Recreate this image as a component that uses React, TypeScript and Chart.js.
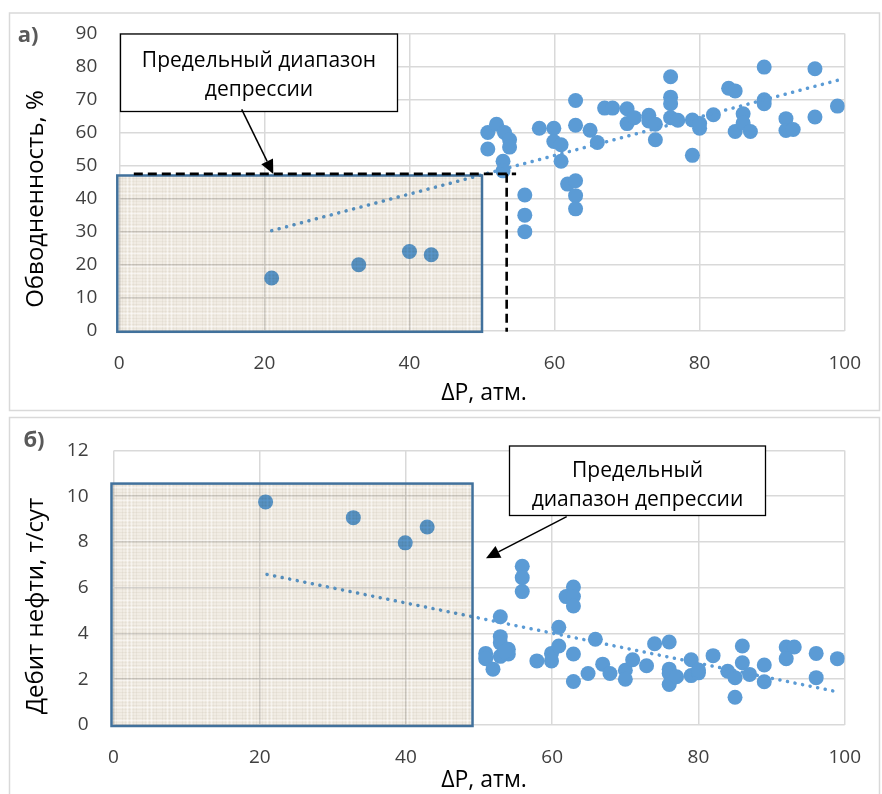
import React, { useEffect, useRef } from 'react';
import { Chart, registerables } from 'chart.js';

Chart.register(...registerables);

const FONT = '"Open Sans", "Noto Sans", sans-serif';

// ---- Chart a) : water cut vs depression ----
const waterDp = [
  21, 33, 40, 43,
  50.8, 50.8, 52, 53.1, 53.8, 53.8, 52.9, 52.9,
  57.9, 59.9, 59.9, 60.9, 60.9, 62.9, 62.9, 64.9, 65.9,
  61.8, 62.9, 62.9, 62.9, 55.9, 55.9, 55.9,
  66.9, 68, 70, 70, 71, 73, 73, 73.9, 73.9,
  76, 76, 76, 76, 77, 79, 80, 80, 79,
  81.9, 84, 84.9, 86, 84.9, 86, 87,
  88.9, 88.9, 88.9, 91.9, 91.9, 92.9, 95.9, 95.9, 99,
];
const waterCut = [
  16, 20, 24, 23,
  60, 55, 62.5, 60, 57.8, 55.6, 51.3, 48.4,
  61.3, 61.3, 57.3, 56.3, 51.3, 69.7, 62.2, 60.7, 57,
  44.4, 45.4, 40.9, 36.9, 41.1, 35, 30,
  67.4, 67.4, 67.2, 62.7, 64.5, 65.2, 63.5, 62.5, 57.8,
  76.9, 70.7, 68.7, 64.5, 63.7, 63.8, 61.3, 62.7, 53.1,
  65.4, 73.4, 72.6, 65.7, 60.3, 62.9, 60.3,
  79.8, 69.9, 68.7, 64.2, 60.6, 60.9, 79.3, 64.7, 68,
];
const waterTrendDp = [21, 99];
const waterTrendCut = [30.3, 75.8];
const waterTicks = [0, 10, 20, 30, 40, 50, 60, 70, 80, 90];

// ---- Chart б) : oil rate vs depression ----
const rateDp = [
  20.8, 32.8, 39.9, 42.9,
  55.9, 55.9, 55.9, 62.9, 61.9, 62.9, 62.9,
  52.9, 60.9, 52.9, 52.9, 54, 54, 50.9, 50.9, 51.9, 52.9, 53.5,
  57.9, 59.9, 59.9, 60.9, 62.9, 62.9,
  65.9, 64.9, 66.9, 67.9, 70, 70, 71, 72.9, 74,
  76, 76, 76, 76, 77, 79, 79, 80, 80,
  82, 84, 85, 85, 86, 86, 87, 89, 89,
  92, 93.1, 92, 96.1, 96.1, 99,
];
const rateOil = [
  9.75, 9.06, 7.96, 8.65,
  6.94, 6.44, 5.83, 6.03, 5.61, 5.61, 5.2,
  4.73, 4.27, 3.86, 3.59, 3.31, 3.1, 3.13, 2.9, 2.44, 3.0, 3.2,
  2.8, 3.13, 2.8, 3.45, 3.1, 1.9,
  3.75, 2.25, 2.66, 2.25, 2.39, 2.0, 2.85, 2.59, 3.55,
  3.63, 2.44, 2.25, 1.77, 2.11, 2.85, 2.16, 2.28, 2.4,
  3.03, 2.35, 2.07, 1.21, 3.45, 2.72, 2.21, 2.62, 1.89,
  3.41, 3.41, 2.9, 3.13, 2.07, 2.9,
];
const rateTrendDp = [21, 99];
const rateTrendOil = [6.58, 1.45];
const rateTicks = [0, 2, 4, 6, 8, 10, 12];

const dpTicks = [0, 20, 40, 60, 80, 100];

// limit-depression regions (data units)
const regionA = { x0: 0, x1: 50, y0: 0, y1: 47 };
const regionB = { x0: 0, x1: 49.1, y0: 0, y1: 10.55 };
const guideA = { x: 53.4, y: 47.5, xStart: 2, xEnd: 54.7 };

const calloutLinesA = ['Предельный диапазон', 'депрессии'];
const calloutLinesB = ['Предельный', 'диапазон депрессии'];

type Region = { x0: number; x1: number; y0: number; y1: number };
type Deco = {
  tag: string; tagPos: [number, number];
  yTitle: string; yTitlePos: [number, number];
  xTitle: string; xTitlePos: [number, number];
  frame: [number, number, number, number];
  region: Region;
  guide?: { x: number; y: number; xStart: number; xEnd: number };
  callout: { lines: string[]; box: [number, number, number, number]; lineY: number[]; from: [number, number]; to: [number, number] };
};

let texture: CanvasPattern | string | null = null;
function getTexture(ctx: CanvasRenderingContext2D) {
  if (texture) return texture;
  const S = 20;
  const c = document.createElement('canvas');
  c.width = S; c.height = S;
  const g = c.getContext('2d')!;
  g.fillStyle = '#f1ece4';
  g.fillRect(0, 0, S, S);
  // soft woven linen look
  const rows = [1, 4, 8, 11, 15, 18];
  const cols = [2, 5, 9, 13, 16];
  rows.forEach((r, i) => {
    g.fillStyle = i % 2 ? 'rgba(190,180,160,0.16)' : 'rgba(190,180,160,0.10)';
    g.fillRect(0, r, S, 1);
  });
  cols.forEach((cc, i) => {
    g.fillStyle = i % 2 ? 'rgba(190,180,160,0.10)' : 'rgba(190,180,160,0.15)';
    g.fillRect(cc, 0, 1, S);
  });
  g.fillStyle = 'rgba(255,255,255,0.45)';
  g.fillRect(0, 6, S, 1); g.fillRect(0, 13, S, 1);
  g.fillRect(7, 0, 1, S); g.fillRect(11, 0, 1, S);
  texture = ctx.createPattern(c, 'repeat') ?? '#f1ece4';
  return texture;
}

function arrowHead(ctx: CanvasRenderingContext2D, from: [number, number], to: [number, number], len: number, wid: number) {
  const a = Math.atan2(to[1] - from[1], to[0] - from[0]);
  const bx = to[0] - len * Math.cos(a), by = to[1] - len * Math.sin(a);
  const px = -Math.sin(a) * wid / 2, py = Math.cos(a) * wid / 2;
  ctx.beginPath();
  ctx.moveTo(to[0], to[1]);
  ctx.lineTo(bx + px, by + py);
  ctx.lineTo(bx - px, by - py);
  ctx.closePath();
  ctx.fill();
  return [bx, by];
}

function decoPlugin(d: Deco) {
  return {
    id: 'deco',
    beforeDraw(chart: any) {
      const ctx: CanvasRenderingContext2D = chart.ctx;
      ctx.save();
      ctx.fillStyle = '#ffffff';
      ctx.fillRect(0, 0, chart.width, chart.height);
      ctx.strokeStyle = '#d9d9d9';
      ctx.lineWidth = 1.5;
      ctx.strokeRect(d.frame[0], d.frame[1], d.frame[2], d.frame[3]);
      ctx.restore();
    },
    afterDatasetsDraw(chart: any) {
      const ctx: CanvasRenderingContext2D = chart.ctx;
      const xs = chart.scales.x, ys = chart.scales.y;
      const r = d.region;
      const L = xs.getPixelForValue(r.x0) - 2;
      const R = xs.getPixelForValue(r.x1);
      const T = ys.getPixelForValue(r.y1);
      const B = ys.getPixelForValue(r.y0) + 1;
      ctx.save();
      ctx.globalCompositeOperation = 'multiply';
      ctx.fillStyle = getTexture(ctx) as any;
      ctx.fillRect(L, T, R - L, B - T);
      ctx.restore();
      ctx.save();
      ctx.strokeStyle = '#41719c';
      ctx.lineWidth = 2.5;
      ctx.strokeRect(L, T, R - L, B - T);
      ctx.restore();

      if (d.guide) {
        const g = d.guide;
        const gy = ys.getPixelForValue(g.y);
        const gx = xs.getPixelForValue(g.x);
        ctx.save();
        ctx.strokeStyle = '#000';
        ctx.lineWidth = 2.6;
        ctx.setLineDash([9, 5]);
        ctx.beginPath();
        ctx.moveTo(xs.getPixelForValue(g.xStart), gy);
        ctx.lineTo(xs.getPixelForValue(g.xEnd), gy);
        ctx.stroke();
        ctx.beginPath();
        ctx.moveTo(gx, gy);
        ctx.lineTo(gx, ys.getPixelForValue(0) + 1);
        ctx.stroke();
        ctx.restore();
      }

      const c = d.callout;
      ctx.save();
      ctx.fillStyle = '#fff';
      ctx.strokeStyle = '#000';
      ctx.lineWidth = 1.3;
      const [bl, bt, br, bb] = c.box;
      ctx.fillRect(bl, bt, br - bl, bb - bt);
      ctx.strokeRect(bl, bt, br - bl, bb - bt);
      ctx.fillStyle = '#000';
      ctx.font = `21px ${FONT}`;
      ctx.textAlign = 'center';
      ctx.textBaseline = 'middle';
      c.lines.forEach((t, i) => ctx.fillText(t, (bl + br) / 2, c.lineY[i]));
      const base = arrowHead(ctx, c.from, c.to, 14, 13);
      ctx.beginPath();
      ctx.lineWidth = 1.5;
      ctx.moveTo(c.from[0], c.from[1]);
      ctx.lineTo(base[0], base[1]);
      ctx.stroke();
      ctx.restore();
    },
    afterDraw(chart: any) {
      const ctx: CanvasRenderingContext2D = chart.ctx;
      ctx.save();
      ctx.textAlign = 'center';
      ctx.textBaseline = 'middle';
      ctx.fillStyle = '#595959';
      ctx.font = `bold 22px ${FONT}`;
      ctx.fillText(d.tag, d.tagPos[0], d.tagPos[1]);
      ctx.fillStyle = '#000';
      ctx.font = `23px ${FONT}`;
      ctx.fillText(d.xTitle, d.xTitlePos[0], d.xTitlePos[1]);
      ctx.translate(d.yTitlePos[0], d.yTitlePos[1]);
      ctx.rotate(-Math.PI / 2);
      ctx.font = `24px ${FONT}`;
      ctx.fillText(d.yTitle, 0, 0);
      ctx.restore();
    },
  };
}

type PanelProps = {
  top: number; height: number;
  px: number[]; py: number[]; tx: number[]; ty: number[];
  yMax: number; yTicks: number[];
  area: { left: number; right: number; top: number; bottom: number };
  yPad: number; xPad: number;
  deco: Deco;
};

function Panel(p: PanelProps) {
  const ref = useRef<HTMLCanvasElement>(null);
  useEffect(() => {
    if (!ref.current) return;
    const W = 882;
    const chart = new Chart(ref.current, {
      type: 'scatter',
      data: {
        datasets: [
          {
            type: 'line',
            data: p.tx.map((x, i) => ({ x, y: p.ty[i] })),
            borderColor: '#5b9bd5',
            borderWidth: 3.5,
            borderDash: [0.1, 7.6],
            borderCapStyle: 'round',
            pointRadius: 0,
            fill: false,
            order: 0,
          } as any,
          {
            type: 'scatter',
            data: p.px.map((x, i) => ({ x, y: p.py[i] })),
            backgroundColor: '#5b9bd5',
            borderWidth: 0,
            pointRadius: 7.5,
            order: 1,
          },
        ],
      },
      options: {
        responsive: false,
        animation: false,
        devicePixelRatio: 1,
        layout: { padding: { top: p.area.top, right: W - p.area.right, left: 0, bottom: 0 } },
        plugins: { legend: { display: false }, tooltip: { enabled: false } },
        scales: {
          x: {
            type: 'linear',
            min: 0, max: 100,
            afterBuildTicks: (s: any) => { s.ticks = dpTicks.map((v) => ({ value: v })); },
            afterFit: (s: any) => { s.height = p.height - p.area.bottom; },
            grid: { color: '#d9d9d9', lineWidth: 1.5, drawTicks: false },
            border: { display: false },
            ticks: { color: '#404040', font: { family: FONT, size: 19 }, padding: p.xPad, maxRotation: 0 },
          },
          y: {
            type: 'linear',
            min: 0, max: p.yMax,
            afterBuildTicks: (s: any) => { s.ticks = p.yTicks.map((v) => ({ value: v })); },
            afterFit: (s: any) => { s.width = p.area.left; },
            grid: { color: '#d9d9d9', lineWidth: 1.5, drawTicks: false },
            border: { display: false },
            ticks: { color: '#404040', font: { family: FONT, size: 19 }, padding: p.yPad },
          },
        },
      },
      plugins: [decoPlugin(p.deco) as any],
    });
    return () => chart.destroy();
  }, []);
  return (
    <canvas
      ref={ref}
      width={882}
      height={p.height}
      style={{ position: 'absolute', left: 0, top: p.top, width: 882, height: p.height, display: 'block' }}
    />
  );
}

export default function App() {
  const decoA: Deco = {
    tag: 'a)', tagPos: [28, 36],
    yTitle: 'Обводненность, %', yTitlePos: [36, 199],
    xTitle: 'ΔP, атм.', xTitlePos: [484, 393],
    frame: [9.5, 13, 870, 397.5],
    region: regionA,
    guide: guideA,
    callout: {
      lines: calloutLinesA,
      box: [120.5, 34, 397.5, 111.5],
      lineY: [61, 90],
      from: [241.7, 109.3],
      to: [273.3, 174],
    },
  };
  const decoB: Deco = {
    tag: 'б)', tagPos: [34, 27],
    yTitle: 'Дебит нефти, т/сут', yTitlePos: [36, 192],
    xTitle: 'ΔP, атм.', xTitlePos: [484, 366],
    frame: [9.5, 3.5, 870, 420],
    region: regionB,
    callout: {
      lines: calloutLinesB,
      box: [509.5, 32, 765.5, 101.5],
      lineY: [57, 86.5],
      from: [566.7, 102.7],
      to: [486, 144.3],
    },
  };
  return (
    <div style={{ position: 'absolute', left: 0, top: 0, width: 882, height: 794, overflow: 'hidden', background: '#fff' }}>
      <Panel
        top={0} height={414}
        px={waterDp} py={waterCut} tx={waterTrendDp} ty={waterTrendCut}
        yMax={90} yTicks={waterTicks}
        area={{ left: 119.3, right: 848.3, top: 28.6, bottom: 330.8 }}
        yPad={22} xPad={21}
        deco={decoA}
      />
      <Panel
        top={414} height={380}
        px={rateDp} py={rateOil} tx={rateTrendDp} ty={rateTrendOil}
        yMax={12} yTicks={rateTicks}
        area={{ left: 113.5, right: 850.7, top: 21, bottom: 311 }}
        yPad={25} xPad={21}
        deco={decoB}
      />
    </div>
  );
}
